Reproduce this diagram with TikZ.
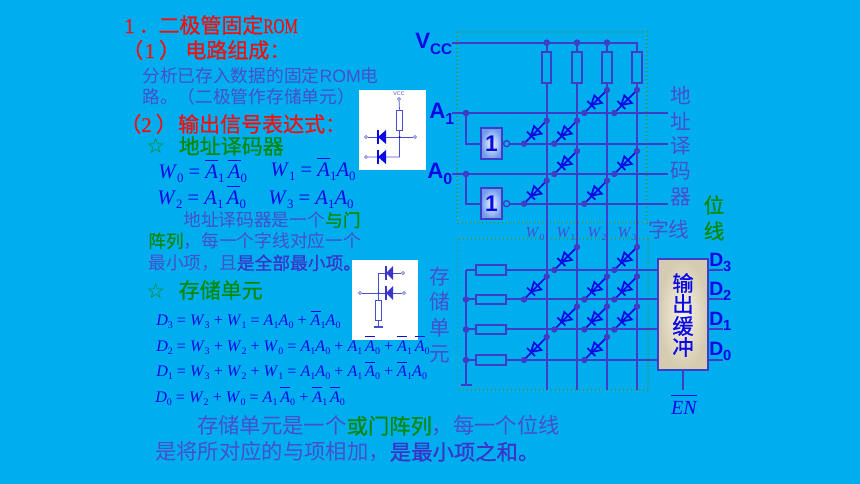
\documentclass[tikz,border=0pt]{standalone}
\usepackage{fontspec}
\usetikzlibrary{calc,positioning}
\setmainfont{Noto Sans CJK SC}
\newfontfamily\mb[FakeBold=0.7]{Noto Sans CJK SC}
\newfontfamily\mbs[FakeBold=0.5]{Liberation Serif}
\newfontfamily\mathf{Liberation Serif}
\newfontfamily\lab{Liberation Sans}
\newfontfamily\sym{DejaVu Sans}
\definecolor{bg}{HTML}{00AEEF}
\definecolor{wire}{HTML}{3F3CC6}
\definecolor{dblue}{HTML}{0A0AE6}
\definecolor{body}{HTML}{4650CC}
\definecolor{strong}{HTML}{3A34C8}
\definecolor{grn}{HTML}{078A0A}
\definecolor{rd}{HTML}{F01010}
\definecolor{dotg}{HTML}{3F9A50}
\definecolor{bufin}{HTML}{F8F3E4}
\definecolor{bufout}{HTML}{D4CBB0}
\definecolor{gatein}{HTML}{F4F8FF}
\definecolor{gateout}{HTML}{6E9CEE}
\newcommand\fs[1]{\fontsize{#1}{#1}\selectfont}
\newcommand\ov[1]{$\overline{\hbox{\rule{0pt}{.82em}#1}}$}
\newcommand\sbb[1]{\raisebox{-.35ex}{\scalebox{.62}{#1}}}
\newcommand\Ao{\textit{A}\sbb{1}}
\newcommand\Az{\textit{A}\sbb{0}}
\newcommand\nAo{\ov{\textit{A}}\sbb{1}}
\newcommand\nAz{\ov{\textit{A}}\sbb{0}}
\newcommand\VW[1]{\textit{W}\sbb{#1}}
\newcommand\DD[1]{\textit{D}\sbb{#1}}
\newcommand\xdiode[2]{%
  \coordinate (hh) at (#1 |- #2);
  \coordinate (pp) at ($(hh)+(-22.7,0)$);
  \coordinate (qq) at ($(hh)+(0,-23)$);
  \draw[dwire] (pp) -- (qq);
  \draw[dwire] ($(pp)+(3,-12)$) -- ($(pp)+(11,-4)$);
  \draw[dwire] ($(pp)+(7,-8)$) -- ($(pp)+(10,-17.5)$) -- ($(pp)+(17.5,-10)$) -- cycle;
  \fill[wire] (pp) circle[radius=3.2] (qq) circle[radius=3.2];
}
\tikzset{
  x=0.75pt,y=-0.75pt,
  wireline/.style={draw=wire,line width=1.5pt},
  dwire/.style={draw=dblue,line width=1.3pt},
  res/.style={draw=wire,line width=1.5pt,inner sep=0pt,minimum width=6.8pt,minimum height=23pt},
  hres/.style={draw=wire,line width=1.5pt,inner sep=0pt,minimum width=23pt,minimum height=6.8pt},
  gatebox/.style={draw=wire,line width=1.5pt,inner color=gatein,outer color=gateout,inner sep=0pt,minimum width=15.5pt,minimum height=23pt,text=dblue,font=\lab\bfseries\fs{17}},
  bubble/.style={circle,draw=wire,fill=bg,line width=1pt,inner sep=0pt,minimum size=4.6pt},
  dotbox/.style={draw=dotg,dotted,line width=1pt},
  txt/.style={anchor=west,inner sep=0pt},
  ctr/.style={inner sep=0pt},
  title/.style={txt,text=rd,font=\mb\fs{15.75}},
  para/.style={txt,text=body,font=\fs{13.3}},
  big/.style={txt,text=body,font=\fs{16}},
  hdg/.style={txt,text=grn,font=\mb\fs{15.75}},
  fa/.style={anchor=base west,inner sep=0pt,text=dblue,font=\mathf\fs{15.5}},
  fb/.style={anchor=base west,inner sep=0pt,text=dblue,font=\mathf\fs{12.1}},
  sidec/.style={ctr,text=body,font=\fs{15.5}},
  sideg/.style={ctr,text=grn,font=\mb\fs{15.5}},
  bufc/.style={ctr,text=dblue,font=\mb\fs{16}},
  wlab/.style={ctr,text=body,font=\mathf\fs{11.5}},
  pinl/.style={txt,text=dblue,font=\lab\bfseries\fs{16.7}},
  dpin/.style={txt,text=dblue,font=\lab\bfseries\fs{14.5}},
  sline/.style={draw=#1,line width=.55pt},
  sdot/.style={circle,draw=#1,fill=white,line width=.4pt,inner sep=0pt,minimum size=2.4pt},
}
\begin{document}
\begin{tikzpicture}
\useasboundingbox (0,0) rectangle (860,484);
\fill[bg] (0,0) rectangle (860,484);

% named rails
\foreach \n/\xx in {W0/546.7,W1/577,W2/607,W3/637}{\coordinate (\n) at (\xx,390);}
\foreach \n/\yy in {Vc/42.7,LA1/113,LN1/143.7,LA0/174,LN0/203.7,LD3/270,LD2/299.5,LD1/329.5,LD0/360}{\coordinate (\n) at (452,\yy);}
\coordinate (E) at (668,0);

% dotted frames
\draw[dotbox] (457,32) rectangle (647,223);
\draw[dotbox] (457.7,239) rectangle (648,390);

% decoder
\node[res] (R0) at (546.7,67.5) {};
\node[res] (R1) at (577,67.5) {};
\node[res] (R2) at (607,67.5) {};
\node[res] (R3) at (637,67.5) {};
\draw[wireline] (Vc) -- (637,42.7) -- (R3.north);
\draw[wireline] (546.7,42.7) coordinate (v0) -- (R0.north);
\draw[wireline] (577,42.7) coordinate (v1) -- (R1.north);
\draw[wireline] (607,42.7) coordinate (v2) -- (R2.north);
\foreach \r/\w in {R0/W0,R1/W1,R2/W2,R3/W3}{\draw[wireline] (\r.south) -- (\w);}
\fill[wire] (v0) circle[radius=3.3] (v1) circle[radius=3.3] (v2) circle[radius=3.3];

\node[gatebox] (G1) at (491.5,143.7) {1};
\node[gatebox] (G0) at (491.5,203.7) {1};
\node[bubble,anchor=west] (B1) at (G1.east) {};
\node[bubble,anchor=west] (B0) at (G0.east) {};
\draw[wireline] (LA1) -- (LA1 -| E);
\draw[wireline] (LA0) -- (LA0 -| E);
\coordinate (J1) at (466,113);
\coordinate (J0) at (466,174);
\draw[wireline] (J1) |- (G1.west);
\draw[wireline] (J0) |- (G0.west);
\draw[wireline] (B1.east) -- (LN1 -| E);
\draw[wireline] (B0.east) -- (LN0 -| E);
\fill[wire] (J1) circle[radius=3.3] (J0) circle[radius=3.3];

\xdiode{W2}{LA1}\xdiode{W3}{LA1}
\xdiode{W0}{LN1}\xdiode{W1}{LN1}
\xdiode{W1}{LA0}\xdiode{W3}{LA0}
\xdiode{W0}{LN0}\xdiode{W2}{LN0}

% memory matrix
\node[draw=wire,line width=1.5pt,inner color=bufin,outer color=bufout,minimum width=37.5pt,minimum height=83pt,inner sep=0pt] (BUF) at (683,314.5) {};
\coordinate (Bus3) at (466,270);
\coordinate (Bus2) at (466,299.5);
\coordinate (Bus1) at (466,329.5);
\coordinate (Bus0) at (466,360);
\coordinate (Gnd) at (466,385);
\foreach \i/\yy in {3/270,2/299.5,1/329.5,0/360}{
  \node[hres] (H\i) at (491,\yy) {};
  \draw[wireline] (Bus\i) -- (H\i.west);
  \draw[wireline] (H\i.east) -- (BUF.west |- H\i);
  \coordinate (Oa\i) at (708,\yy);
  \coordinate (Ob\i) at (723,\yy);
  \draw[wireline] (Oa\i) -- (Ob\i);
}
\draw[wireline] (Bus3) -- (Gnd);
\draw[wireline,line width=1.8pt] (461,385) coordinate (g1) -- (472,385) coordinate (g2);
\fill[wire] (Bus2) circle[radius=3.3] (Bus1) circle[radius=3.3] (Bus0) circle[radius=3.3];

\xdiode{W1}{LD3}\xdiode{W3}{LD3}
\xdiode{W0}{LD2}\xdiode{W2}{LD2}\xdiode{W3}{LD2}
\xdiode{W1}{LD1}\xdiode{W2}{LD1}\xdiode{W3}{LD1}
\xdiode{W0}{LD0}\xdiode{W2}{LD0}

\coordinate (EN) at (683,390);
\draw[wireline] (BUF.south) -- (EN);

% pin labels
\node[pinl] (VCC) at (415,44) {V\raisebox{-.5ex}{\fs{11.5}CC}};
\node[pinl] (A1) at (429,114) {A\raisebox{-.5ex}{\fs{12}1}};
\node[pinl] (A0) at (427,174) {A\raisebox{-.5ex}{\fs{12}0}};
\node[dpin] (D3) at (709,262) {D\raisebox{-.5ex}{\fs{11}3}};
\node[dpin] (D2) at (709,291.5) {D\raisebox{-.5ex}{\fs{11}2}};
\node[dpin] (D1) at (709,321) {D\raisebox{-.5ex}{\fs{11}1}};
\node[dpin] (D0) at (709,351) {D\raisebox{-.5ex}{\fs{11}0}};
\node[anchor=base,inner sep=0pt,text=dblue,font=\mathf\itshape\fs{15}] (ENL) at (684,414) {$\overline{\hbox{\rule{0pt}{.82em}EN}}$};

\node[wlab] (LW0) at (535,234) {\VW{0}};
\node[wlab] (LW1) at (566,234) {\VW{1}};
\node[wlab] (LW2) at (597,234) {\VW{2}};
\node[wlab] (LW3) at (627,234) {\VW{3}};

% side words
\node[sidec] (s1) at (681,95) {地};
\node[sidec] (s2) at (681,121) {址};
\node[sidec] (s3) at (681,146) {译};
\node[sidec] (s4) at (681,171) {码};
\node[sidec] (s5) at (681,197) {器};
\node[sidec,anchor=west] (s6) at (648,230) {字线};
\node[sideg] (s7) at (714,205) {位};
\node[sideg] (s8) at (714,231) {线};
\node[sidec] (s9) at (440,277) {存};
\node[sidec] (s10) at (440,302) {储};
\node[sidec] (s11) at (440,328) {单};
\node[sidec] (s12) at (440,354) {元};
\node[bufc] (b1) at (683,283) {输};
\node[bufc] (b2) at (683,304) {出};
\node[bufc] (b3) at (683,326) {缓};
\node[bufc] (b4) at (683,347) {冲};

% heading text
\node[title] (t1) at (124,25) {{\mbs 1}\hspace{3pt}．\hspace{-1pt}二极管固定\scalebox{.72}[1]{\mbs ROM}};
\node[title] (t2) at (122,50) {（\hspace{1pt}{\mbs 1}\hspace{3pt}）\hspace{4pt}电路组成：};
\node[para] (p1) at (142,76) {分析已存入数据的固定{\lab ROM}电};
\node[para] (p2) at (142,97) {路。（二极管作存储单元）};
\node[title] (t3) at (120,124) {（{\mbs 2}\hspace{3pt}）\hspace{1pt}输出信号表达式：};
\node[hdg] (h1) at (146,146) {{\sym ☆}\hspace{.65em}地址译码器};
\node[para] (p3) at (183,220) {地址译码器是一个{\color{grn}\mb 与门}};
\node[para] (p4) at (148,241) {{\color{grn}\mb 阵列}，每一个字线对应一个};
\node[para] (p5) at (148,263) {最小项，且{\color{strong}\mb 是全部最小项。}};
\node[hdg] (h2) at (146,290) {{\sym ☆}\hspace{.65em}存储单元};
\node[big] (p6) at (197,426) {存储单元是一个{\color{grn}\mb 或门阵列}，每一个位线};
\node[big] (p7) at (155,452) {是将所对应的与项相加，{\color{strong}\mb 是最小项之和。}};

% first inset
\fill[white] (359,90) rectangle (426,170);
\node[ctr,text=body,font=\lab\fs{4}] (iv) at (399,94) {VCC};
\node[sdot=body] (ic) at (399,99) {};
\node[draw=body,line width=.55pt,inner sep=0pt,minimum width=4.2pt,minimum height=15pt] (ir) at (399.5,120) {};
\node[sdot=body] (i1) at (366,137) {};
\node[sdot=body] (i2) at (415,137) {};
\node[sdot=body] (i3) at (366,157) {};
\coordinate (ij) at (399.5,137);
\coordinate (ib) at (399.5,157);
\draw[sline=body] (ic) -- (ir.north) (ir.south) -- (ib) -- (i3);
\draw[sline=body] (i1) -- (i2);
\fill[dblue] (ij) circle[radius=1];
\foreach \yy in {137,157}{
  \fill[dblue] (378,\yy) -- (386,\yy-7) -- (386,\yy+7) -- cycle;
  \draw[dblue,line width=.8pt] (378,\yy-7) -- (378,\yy+7);
}

% second inset
\fill[white] (352,260) rectangle (418,340);
\node[sdot=body] (k1) at (403,273) {};
\node[sdot=body] (k2) at (360,293) {};
\node[sdot=body] (k3) at (404,293) {};
\node[draw=body,line width=.55pt,fill=white,inner sep=0pt,minimum width=4.4pt,minimum height=14.5pt] (kr) at (378.5,310.5) {};
\coordinate (kt) at (378.5,273);
\coordinate (kg) at (378.5,327);
\draw[sline=body] (k1) -- (kt) -- (kr.north) (kr.south) -- (kg);
\draw[sline=body] (k2) -- (k3);
\draw[body,line width=.9pt] (374,327) -- (383,327);
\fill[strong] (378.5,293) circle[radius=1];
\foreach \yy in {273,293}{
  \fill[strong] (386,\yy) -- (393,\yy-7) -- (393,\yy+7) -- cycle;
  \draw[strong,line width=.8pt] (386,\yy-7) -- (386,\yy+7);
}

% formulas
\node[fa] (f1) at (158,179) {\VW{0} = \nAo\,\nAz};
\node[fa] (f2) at (270,177) {\VW{1} = \nAo\Az};
\node[fa] (f3) at (157,205) {\VW{2} = \Ao\,\nAz};
\node[fa] (f4) at (268,205) {\VW{3} = \Ao\Az};
\node[fb] (f5) at (156,326) {\DD{3} = \VW{3} + \VW{1} = \Ao\Az{} + \nAo\Az};
\node[fb] (f6) at (156,351.5) {\DD{2} = \VW{3} + \VW{2} + \VW{0} = \Ao\Az{} + \Ao\,\nAz{} + \nAo\,\nAz};
\node[fb] (f7) at (156,377) {\DD{1} = \VW{3} + \VW{2} + \VW{1} = \Ao\Az{} + \Ao\,\nAz{} + \nAo\Az};
\node[fb] (f8) at (155,402.5) {\DD{0} = \VW{2} + \VW{0} = \Ao\,\nAz{} + \nAo\,\nAz};
\end{tikzpicture}
\end{document}
